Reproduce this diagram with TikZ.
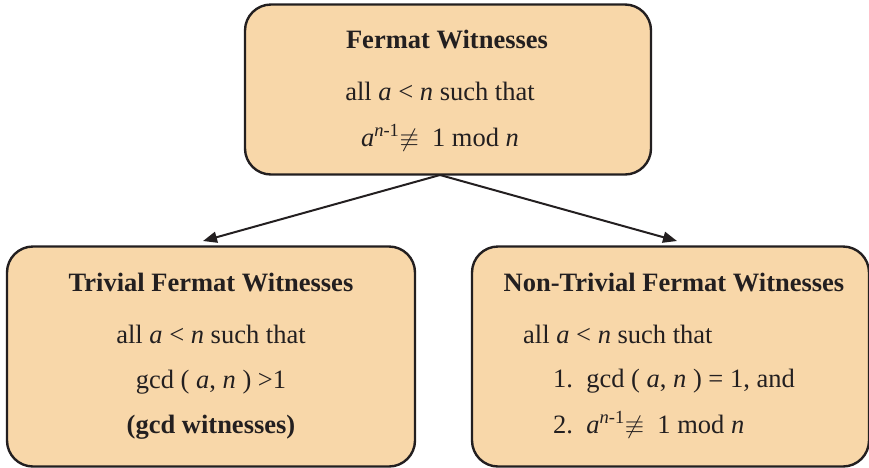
\documentclass[tikz,border=0pt]{standalone}
\usepackage{fontspec}
\setmainfont{Liberation Serif}
\usetikzlibrary{arrows.meta}
\definecolor{peach}{HTML}{F8D7A9}
\definecolor{ink}{HTML}{231F20}
\newcommand{\nequivsym}{\ensuremath{\not\equiv}}
\newcommand{\pw}{\textsuperscript{\textit{n}-1}}
\tikzset{
  box/.style={draw=ink, fill=peach, line width=2.4pt, rounded corners=26pt, inner sep=0pt},
  txt/.style={text=ink, font=\fontsize{26.5}{30}\selectfont, inner sep=0pt, anchor=base},
  ttl/.style={txt, font=\fontsize{26.5}{30}\selectfont\bfseries},
  conn/.style={draw=ink, line width=2pt, -{Triangle[length=14pt,width=11pt]}}
}
\begin{document}
\begin{tikzpicture}[x=1pt,y=-1pt]
\useasboundingbox (0,0) rectangle (869,467);
% boxes
\node[box, minimum width=406pt, minimum height=170pt] (top) at (448,89.5) {};
\node[box, minimum width=408pt, minimum height=220pt] (left) at (211,356.5) {};
\node[box, minimum width=397pt, minimum height=220pt] (right) at (670.5,356.5) {};
% top texts
\node[ttl] (t1) at (447,48) {Fermat Witnesses};
\node[txt] (t2) at (440,100) {all \textit{a} < \textit{n} such that};
\node[txt] (t3) at (440,146) {\textit{a}\pw\nequivsym\ \ 1 mod \textit{n}};
% left texts
\node[ttl] (l1) at (211,291) {Trivial Fermat Witnesses};
\node[txt] (l2) at (211,343) {all \textit{a} < \textit{n} such that};
\node[txt] (l3) at (211,388) {gcd ( \textit{a}, \textit{n} ) >1};
\node[ttl] (l4) at (211,433) {(gcd witnesses)};
% right texts
\node[ttl] (r1) at (674,291) {Non-Trivial Fermat Witnesses};
\node[txt, anchor=base west] (r2) at (523,343) {all \textit{a} < \textit{n} such that};
\node[txt, anchor=base west] (r3) at (553,387) {1.\ \ gcd ( \textit{a}, \textit{n} ) = 1, and};
\node[txt, anchor=base west] (r4) at (553,433) {2.\ \ \textit{a}\pw\nequivsym\ \ 1 mod \textit{n}};
% connectors
\coordinate (src) at (440,175);
\coordinate (ltip) at (203,241);
\coordinate (rtip) at (677,241);
\draw[conn] (src) -- (ltip);
\draw[conn] (src) -- (rtip);
\end{tikzpicture}
\end{document}
